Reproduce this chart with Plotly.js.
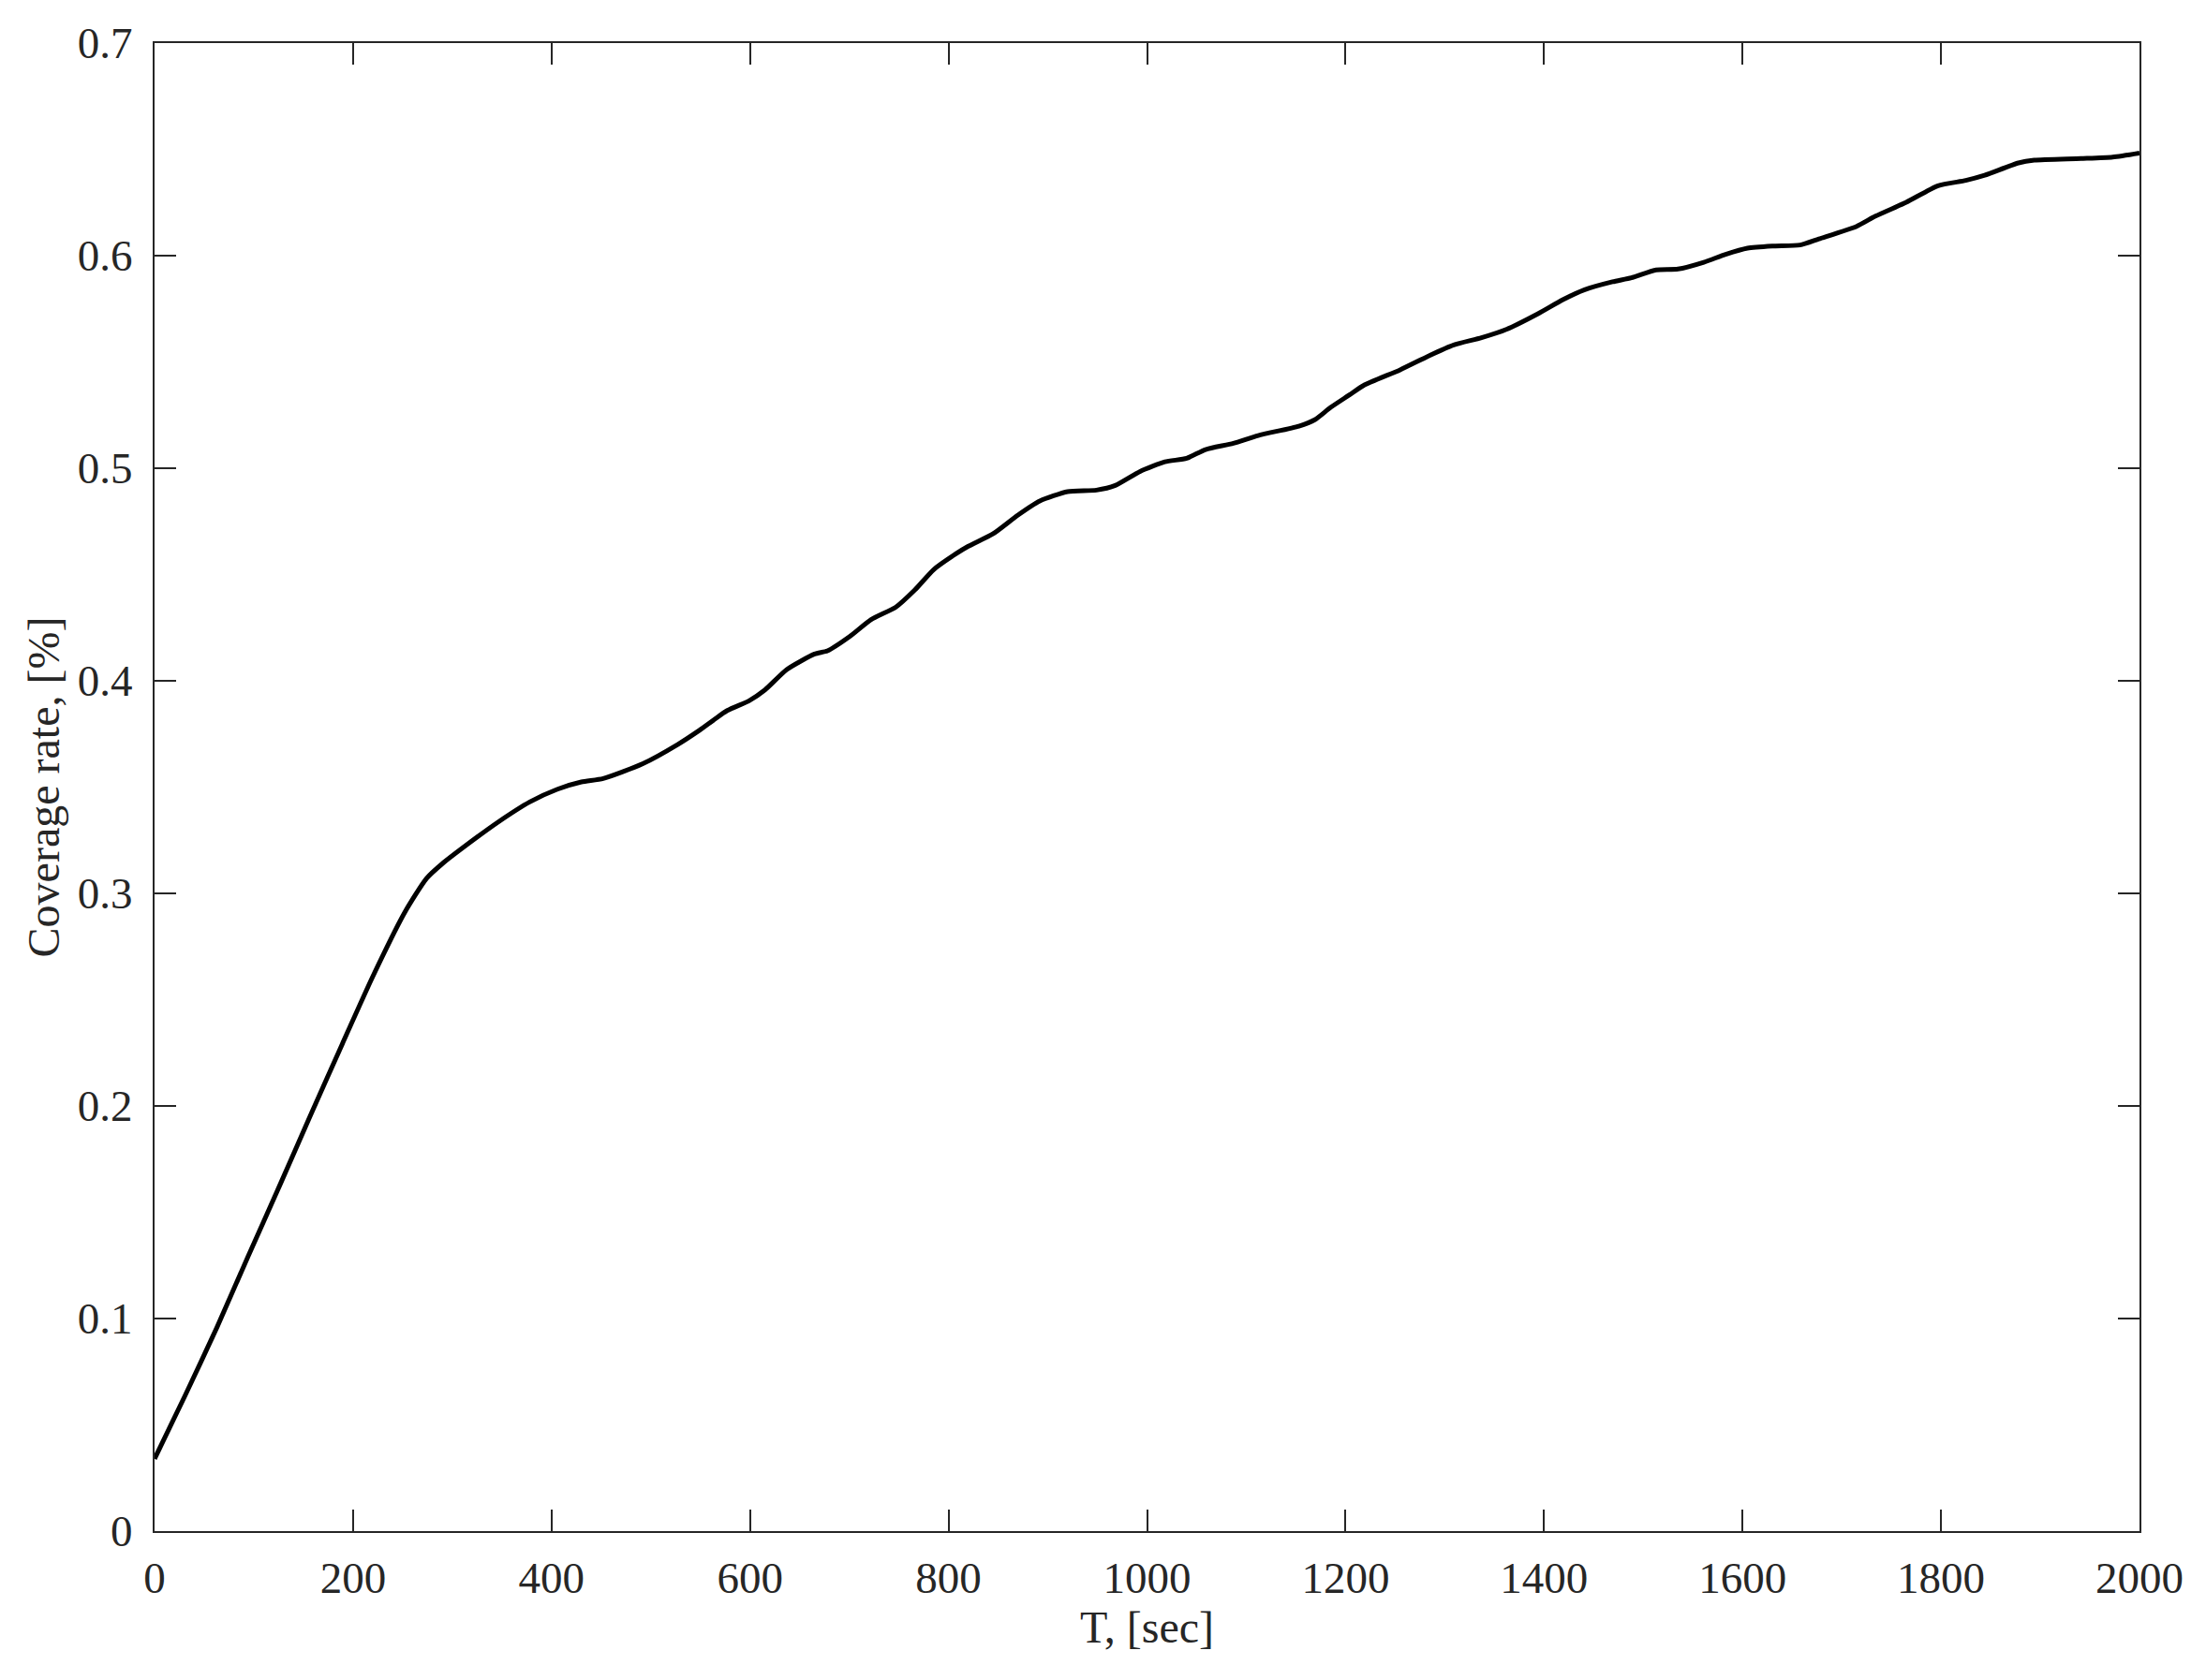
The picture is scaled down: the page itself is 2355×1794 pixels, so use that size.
<!DOCTYPE html>
<html>
<head>
<meta charset="utf-8">
<script src="https://cdn.plot.ly/plotly-3.0.1.min.js"></script>
<style>
  html, body { margin: 0; padding: 0; background: #ffffff; }
  #chart { width: 2355px; height: 1794px; }
</style>
</head>
<body>
<div id="chart"></div>
<script>
// Time, seconds
const timeSec = [0, 31, 63, 94, 126, 157, 189, 220, 252, 274, 290, 315, 346, 378, 406,
  430, 452, 492, 527, 549, 577, 599, 615, 637, 665, 678, 700, 722, 747, 766, 785, 807,
  820, 845, 870, 892, 920, 949, 968, 993, 1018, 1040, 1059, 1087, 1112, 1153, 1169, 1185, 1204,
  1218, 1255, 1284, 1309, 1337, 1362, 1394, 1419, 1441, 1469, 1488, 1513, 1535, 1561, 1583, 1605,
  1630, 1658, 1677, 1715, 1734, 1765, 1797, 1825, 1844, 1878, 1894, 1941, 1973, 2000];

// Coverage rate
const coverageRate = [0.034, 0.064, 0.096, 0.129, 0.1625, 0.1955, 0.229, 0.261, 0.291, 0.307, 0.314, 0.323, 0.3335, 0.343, 0.349,
  0.3524, 0.354, 0.361, 0.370, 0.3767, 0.386, 0.3906, 0.3957, 0.4053, 0.4126, 0.4141, 0.4207, 0.4288, 0.4347, 0.4427, 0.4523, 0.4596,
  0.4633, 0.4692, 0.478, 0.4846, 0.489, 0.4897, 0.4919, 0.4985, 0.503, 0.5047, 0.5088, 0.5117, 0.5154, 0.5198, 0.5228, 0.5286, 0.5345,
  0.5389, 0.5463, 0.5529, 0.558, 0.5614, 0.5653, 0.5727, 0.5793, 0.584, 0.5877, 0.5896, 0.5933, 0.5937, 0.5969, 0.6006, 0.6035,
  0.6045, 0.605, 0.6079, 0.6138, 0.6186, 0.6251, 0.6329, 0.6354, 0.6378, 0.6436, 0.6449, 0.6457, 0.6464, 0.6483];

const xTicks = [0, 200, 400, 600, 800, 1000, 1200, 1400, 1600, 1800, 2000];
const xTickLabels = ["0", "200", "400", "600", "800", "1000", "1200", "1400", "1600", "1800", "2000"];
const yTicks = [0, 0.1, 0.2, 0.3, 0.4, 0.5, 0.6, 0.7];
const yTickLabels = ["0", "0.1", "0.2", "0.3", "0.4", "0.5", "0.6", "0.7"];

const xTitle = "T, [sec]";
const yTitle = "Coverage rate, [%]";

const fontFamily = "'Liberation Serif', 'Times New Roman', serif";
const axisColor = "#262626";

const trace = {
  x: timeSec,
  y: coverageRate,
  type: "scatter",
  mode: "lines",
  line: { color: "#000000", width: 5, shape: "spline", smoothing: 0.6 },
  hoverinfo: "skip"
};

const commonAxis = {
  showline: true,
  linecolor: axisColor,
  linewidth: 2,
  mirror: "ticks",
  ticks: "inside",
  ticklen: 23,
  tickwidth: 2,
  tickcolor: axisColor,
  showgrid: false,
  zeroline: false,
  tickfont: { family: fontFamily, size: 47, color: axisColor },
  automargin: false
};

const layout = {
  width: 2355,
  height: 1794,
  paper_bgcolor: "#ffffff",
  plot_bgcolor: "#ffffff",
  showlegend: false,
  margin: { l: 165, r: 71, t: 46, b: 159 },
  xaxis: Object.assign({}, commonAxis, {
    range: [0, 2000],
    tickmode: "array",
    tickvals: xTicks,
    ticktext: xTickLabels,
    ticklabelstandoff: 8,
    title: { text: xTitle, font: { family: fontFamily, size: 48, color: axisColor }, standoff: 8 }
  }),
  yaxis: Object.assign({}, commonAxis, {
    range: [0, 0.7],
    tickmode: "array",
    tickvals: yTicks,
    ticktext: yTickLabels,
    ticklabelstandoff: 12,
    title: { text: yTitle, font: { family: fontFamily, size: 48, color: axisColor }, standoff: 4 }
  })
};

Plotly.newPlot("chart", [trace], layout, { staticPlot: true, displayModeBar: false });
</script>
</body>
</html>
